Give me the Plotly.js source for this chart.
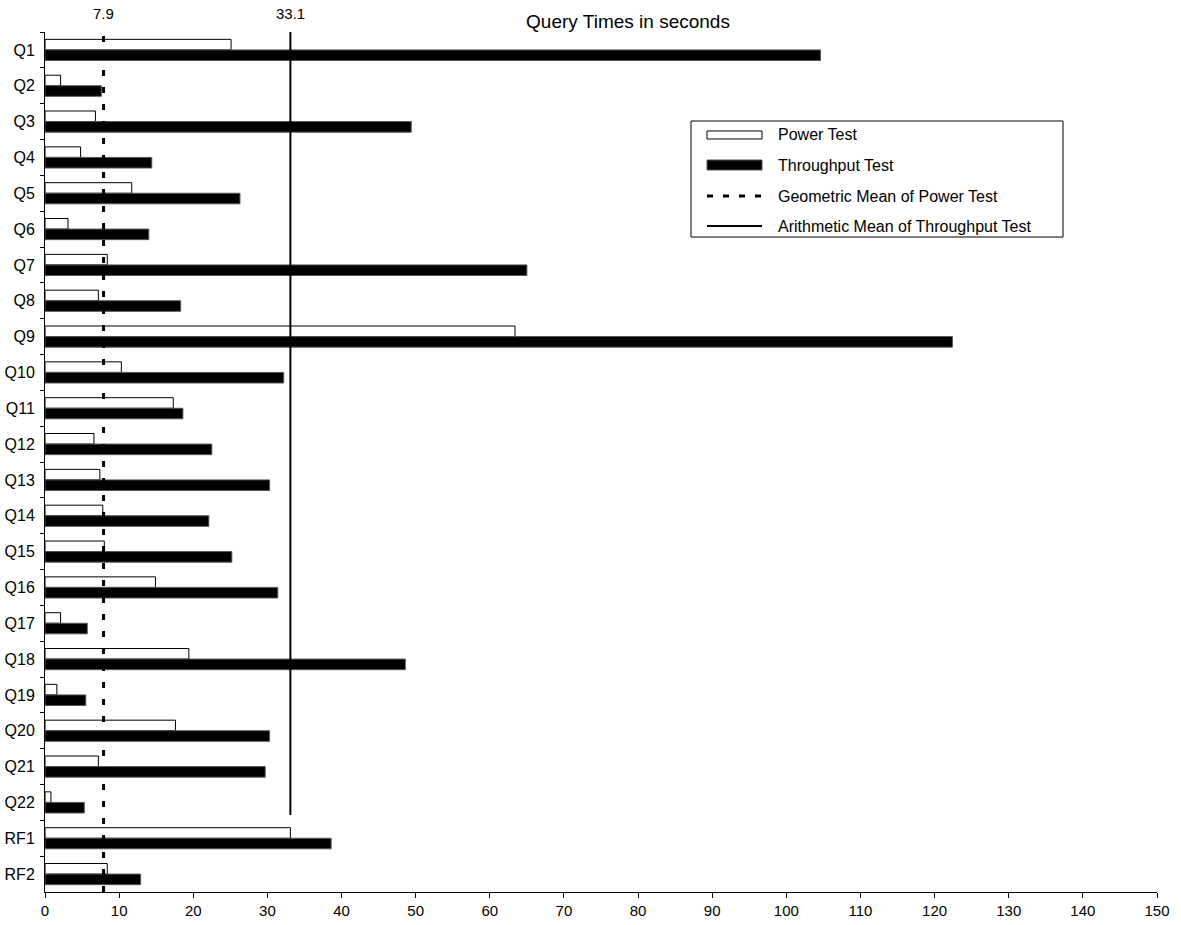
<!DOCTYPE html>
<html>
<head>
<meta charset="utf-8">
<script src="https://cdn.plot.ly/plotly-3.0.1.min.js"></script>
<style>html,body{margin:0;padding:0;background:#fff;}#chart{width:1181px;height:925px;}</style>
</head>
<body>
<div id="chart"></div>
<script>
const categories = ["Q1","Q2","Q3","Q4","Q5","Q6","Q7","Q8","Q9","Q10","Q11","Q12","Q13","Q14","Q15","Q16","Q17","Q18","Q19","Q20","Q21","Q22","RF1","RF2"];
const powerTest = [25.1,2.1,6.8,4.8,11.7,3.1,8.4,7.2,63.4,10.3,17.3,6.6,7.4,7.8,8.0,14.9,2.1,19.4,1.6,17.6,7.2,0.8,33.1,8.4];
const throughputTest = [104.6,7.6,49.4,14.4,26.3,14.0,65.0,18.3,122.4,32.2,18.6,22.5,30.3,22.1,25.2,31.4,5.7,48.6,5.5,30.3,29.7,5.3,38.6,12.9];
const geoMeanPower = 7.9;
const arithMeanThroughput = 33.1;
const seriesNames = ["Power Test","Throughput Test","Geometric Mean of Power Test","Arithmetic Mean of Throughput Test"];
const xTickVals = [0,10,20,30,40,50,60,70,80,90,100,110,120,130,140,150];

const FONT = "Liberation Sans, Arial, sans-serif";
const L = 45, R = 24, T = 32, B = 33, W = 1181, H = 925;
const plotW = W - L - R, plotH = H - T - B;
const px = x => (x - L) / plotW;
const py = y => (H - B - y) / plotH;

const traces = [
  {type:"bar", orientation:"h", name:seriesNames[0], y:categories, x:powerTest,
   marker:{color:"#ffffff", line:{color:"#000000", width:1}}, hoverinfo:"x+y"},
  {type:"bar", orientation:"h", name:seriesNames[1], y:categories, x:throughputTest,
   marker:{color:"#000000", line:{color:"#555555", width:1}}, hoverinfo:"x+y"}
];

// legend geometry (pixels)
const lg = {x0:691, x1:1063, y0:121, y1:237, sx0:707, sx1:762, tx:776, rows:[135,165,196,226]};

const shapes = [
  {type:"line", xref:"x", yref:"paper", x0:geoMeanPower, x1:geoMeanPower, y0:0, y1:1,
   line:{color:"#000", width:3, dash:"6px,11px"}, layer:"above"},
  {type:"line", xref:"x", yref:"paper", x0:arithMeanThroughput, x1:arithMeanThroughput, y0:py(815), y1:1,
   line:{color:"#000", width:2}, layer:"above"},
  // legend box
  {type:"rect", xref:"paper", yref:"paper", x0:px(lg.x0), x1:px(lg.x1), y0:py(lg.y1), y1:py(lg.y0),
   line:{color:"#000", width:1}, fillcolor:"#fff", layer:"above"},
  {type:"rect", xref:"paper", yref:"paper", x0:px(lg.sx0), x1:px(lg.sx1), y0:py(lg.rows[0]+4), y1:py(lg.rows[0]-4),
   line:{color:"#000", width:1}, fillcolor:"#fff", layer:"above"},
  {type:"rect", xref:"paper", yref:"paper", x0:px(lg.sx0), x1:px(lg.sx1), y0:py(lg.rows[1]+5), y1:py(lg.rows[1]-5),
   line:{color:"#555", width:1}, fillcolor:"#000", layer:"above"},
  {type:"line", xref:"paper", yref:"paper", x0:px(lg.sx0), x1:px(lg.sx1), y0:py(lg.rows[2]), y1:py(lg.rows[2]),
   line:{color:"#000", width:3, dash:"6px,10px"}, layer:"above"},
  {type:"line", xref:"paper", yref:"paper", x0:px(lg.sx0), x1:px(lg.sx1), y0:py(lg.rows[3]), y1:py(lg.rows[3]),
   line:{color:"#000", width:2}, layer:"above"}
];

const annotations = [
  {xref:"x", yref:"paper", x:geoMeanPower, y:py(13), text:String(geoMeanPower), showarrow:false,
   xanchor:"center", yanchor:"middle", font:{family:FONT, size:15, color:"#000"}},
  {xref:"x", yref:"paper", x:arithMeanThroughput, y:py(13), text:String(arithMeanThroughput), showarrow:false,
   xanchor:"center", yanchor:"middle", font:{family:FONT, size:15, color:"#000"}}
];
seriesNames.forEach((n,i) => {
  annotations.push({xref:"paper", yref:"paper", x:px(lg.tx), y:py(lg.rows[i]), text:n, showarrow:false,
    xanchor:"left", yanchor:"middle", font:{family:FONT, size:16, color:"#000"}});
});

const layout = {
  width:W, height:H,
  margin:{l:L, r:R, t:T, b:B, pad:0},
  paper_bgcolor:"#fff", plot_bgcolor:"#fff",
  font:{family:FONT, size:15, color:"#000"},
  title:{text:"Query Times in seconds", xref:"container", yref:"container", x:628/W, y:1-21/H,
         xanchor:"center", yanchor:"middle", font:{family:FONT, size:19, color:"#000"}},
  showlegend:false,
  barmode:"group", bargap:0.41, bargroupgap:0,
  xaxis:{range:[0,150], tickvals:xTickVals, ticks:"outside", ticklen:5, tickcolor:"#000",
         showline:true, linecolor:"#000", linewidth:1, showgrid:false, zeroline:false,
         tickfont:{family:FONT, size:15, color:"#000"}},
  yaxis:{type:"category", categoryorder:"array", categoryarray:categories, autorange:"reversed",
         ticks:"outside", tickson:"boundaries", ticklen:4, tickcolor:"#000",
         showline:true, linecolor:"#000", linewidth:1, showgrid:false, zeroline:false,
         ticklabelstandoff:6, tickfont:{family:FONT, size:16, color:"#000"}},
  shapes:shapes, annotations:annotations
};

Plotly.newPlot("chart", traces, layout, {displayModeBar:false, staticPlot:true});
</script>
</body>
</html>
